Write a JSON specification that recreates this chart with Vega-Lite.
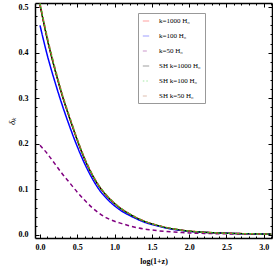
{
  "$schema": "https://vega.github.io/schema/vega-lite/v6.json",
  "autosize": "none",
  "width": 237,
  "height": 235,
  "padding": {"left": 35, "top": 3, "right": 1, "bottom": 35},
  "background": "white",
  "config": {
    "view": {"stroke": null},
    "axis": {
      "labelFont": "Liberation Serif",
      "labelFontWeight": "bold",
      "labelFontSize": 8,
      "labelColor": "black",
      "domainColor": "black",
      "domainWidth": 1.5,
      "tickColor": "black",
      "tickWidth": 1,
      "grid": false,
      "titleFont": "Liberation Serif",
      "titleColor": "black"
    }
  },
  "data": {
    "values": [
      {"x": 0.0, "k=1000 H₀": 0.505, "k=100 H₀": 0.46, "k=50 H₀": 0.197, "SH k=1000 H₀": 0.505, "SH k=100 H₀": 0.507, "SH k=50 H₀": 0.508},
      {"x": 0.1, "k=1000 H₀": 0.428, "k=100 H₀": 0.393, "k=50 H₀": 0.178, "SH k=1000 H₀": 0.428, "SH k=100 H₀": 0.43, "SH k=50 H₀": 0.432},
      {"x": 0.2, "k=1000 H₀": 0.363, "k=100 H₀": 0.336, "k=50 H₀": 0.156, "SH k=1000 H₀": 0.363, "SH k=100 H₀": 0.3645, "SH k=50 H₀": 0.367},
      {"x": 0.3, "k=1000 H₀": 0.305, "k=100 H₀": 0.284, "k=50 H₀": 0.134, "SH k=1000 H₀": 0.305, "SH k=100 H₀": 0.306, "SH k=50 H₀": 0.308},
      {"x": 0.4, "k=1000 H₀": 0.255, "k=100 H₀": 0.237, "k=50 H₀": 0.114, "SH k=1000 H₀": 0.255, "SH k=100 H₀": 0.256, "SH k=50 H₀": 0.258},
      {"x": 0.5, "k=1000 H₀": 0.208, "k=100 H₀": 0.194, "k=50 H₀": 0.094, "SH k=1000 H₀": 0.208, "SH k=100 H₀": 0.209, "SH k=50 H₀": 0.21},
      {"x": 0.6, "k=1000 H₀": 0.166, "k=100 H₀": 0.156, "k=50 H₀": 0.076, "SH k=1000 H₀": 0.166, "SH k=100 H₀": 0.1667, "SH k=50 H₀": 0.168},
      {"x": 0.7, "k=1000 H₀": 0.132, "k=100 H₀": 0.124, "k=50 H₀": 0.06, "SH k=1000 H₀": 0.132, "SH k=100 H₀": 0.1325, "SH k=50 H₀": 0.1335},
      {"x": 0.8, "k=1000 H₀": 0.105, "k=100 H₀": 0.098, "k=50 H₀": 0.047, "SH k=1000 H₀": 0.105, "SH k=100 H₀": 0.1054, "SH k=50 H₀": 0.106},
      {"x": 0.9, "k=1000 H₀": 0.085, "k=100 H₀": 0.079, "k=50 H₀": 0.037, "SH k=1000 H₀": 0.085, "SH k=100 H₀": 0.0853, "SH k=50 H₀": 0.086},
      {"x": 1.0, "k=1000 H₀": 0.069, "k=100 H₀": 0.064, "k=50 H₀": 0.03, "SH k=1000 H₀": 0.069, "SH k=100 H₀": 0.0693, "SH k=50 H₀": 0.0697},
      {"x": 1.1, "k=1000 H₀": 0.056, "k=100 H₀": 0.052, "k=50 H₀": 0.025, "SH k=1000 H₀": 0.056, "SH k=100 H₀": 0.0562, "SH k=50 H₀": 0.0566},
      {"x": 1.2, "k=1000 H₀": 0.046, "k=100 H₀": 0.043, "k=50 H₀": 0.02, "SH k=1000 H₀": 0.046, "SH k=100 H₀": 0.0462, "SH k=50 H₀": 0.0465},
      {"x": 1.3, "k=1000 H₀": 0.037, "k=100 H₀": 0.035, "k=50 H₀": 0.016, "SH k=1000 H₀": 0.037, "SH k=100 H₀": 0.0371, "SH k=50 H₀": 0.0374},
      {"x": 1.4, "k=1000 H₀": 0.03, "k=100 H₀": 0.028, "k=50 H₀": 0.013, "SH k=1000 H₀": 0.03, "SH k=100 H₀": 0.0301, "SH k=50 H₀": 0.0303},
      {"x": 1.5, "k=1000 H₀": 0.0245, "k=100 H₀": 0.023, "k=50 H₀": 0.011, "SH k=1000 H₀": 0.0245, "SH k=100 H₀": 0.0246, "SH k=50 H₀": 0.0247},
      {"x": 1.6, "k=1000 H₀": 0.02, "k=100 H₀": 0.019, "k=50 H₀": 0.009, "SH k=1000 H₀": 0.02, "SH k=100 H₀": 0.0201, "SH k=50 H₀": 0.0202},
      {"x": 1.7, "k=1000 H₀": 0.016, "k=100 H₀": 0.015, "k=50 H₀": 0.0075, "SH k=1000 H₀": 0.016, "SH k=100 H₀": 0.0161, "SH k=50 H₀": 0.0162},
      {"x": 1.8, "k=1000 H₀": 0.013, "k=100 H₀": 0.012, "k=50 H₀": 0.0063, "SH k=1000 H₀": 0.013, "SH k=100 H₀": 0.0131, "SH k=50 H₀": 0.0131},
      {"x": 1.9, "k=1000 H₀": 0.0105, "k=100 H₀": 0.0098, "k=50 H₀": 0.0053, "SH k=1000 H₀": 0.0105, "SH k=100 H₀": 0.0105, "SH k=50 H₀": 0.0106},
      {"x": 2.0, "k=1000 H₀": 0.0085, "k=100 H₀": 0.008, "k=50 H₀": 0.0045, "SH k=1000 H₀": 0.0085, "SH k=100 H₀": 0.0085, "SH k=50 H₀": 0.0086},
      {"x": 2.2, "k=1000 H₀": 0.006, "k=100 H₀": 0.0057, "k=50 H₀": 0.0035, "SH k=1000 H₀": 0.006, "SH k=100 H₀": 0.006, "SH k=50 H₀": 0.0061},
      {"x": 2.4, "k=1000 H₀": 0.0045, "k=100 H₀": 0.0043, "k=50 H₀": 0.0028, "SH k=1000 H₀": 0.0045, "SH k=100 H₀": 0.0045, "SH k=50 H₀": 0.0045},
      {"x": 2.6, "k=1000 H₀": 0.0034, "k=100 H₀": 0.0033, "k=50 H₀": 0.0022, "SH k=1000 H₀": 0.0034, "SH k=100 H₀": 0.0034, "SH k=50 H₀": 0.0034},
      {"x": 2.8, "k=1000 H₀": 0.0027, "k=100 H₀": 0.0026, "k=50 H₀": 0.0018, "SH k=1000 H₀": 0.0027, "SH k=100 H₀": 0.0027, "SH k=50 H₀": 0.0027},
      {"x": 3.0, "k=1000 H₀": 0.0021, "k=100 H₀": 0.002, "k=50 H₀": 0.0015, "SH k=1000 H₀": 0.0021, "SH k=100 H₀": 0.0021, "SH k=50 H₀": 0.0021},
      {"x": 3.1, "k=1000 H₀": 0.0019, "k=100 H₀": 0.0018, "k=50 H₀": 0.0014, "SH k=1000 H₀": 0.0019, "SH k=100 H₀": 0.0019, "SH k=50 H₀": 0.0019}
    ]
  },
  "transform": [
    {"fold": ["k=1000 H₀", "k=100 H₀", "k=50 H₀", "SH k=1000 H₀", "SH k=100 H₀", "SH k=50 H₀"], "as": ["s", "y"]}
  ],
  "encoding": {
    "x": {"field": "x", "type": "quantitative", "scale": {"domain": [-0.067, 3.11], "nice": false, "zero": false}},
    "y": {"field": "y", "type": "quantitative", "scale": {"domain": [-0.0066, 0.509], "nice": false, "zero": false}},
    "color": {
      "field": "s", "type": "nominal",
      "scale": {
        "domain": ["k=1000 H₀", "k=100 H₀", "k=50 H₀", "SH k=1000 H₀", "SH k=100 H₀", "SH k=50 H₀"],
        "range": ["#ff0000", "#0000ff", "#800080", "#000000", "#22cc22", "#b0603a"]
      },
      "legend": {
        "title": null, "orient": "none", "legendX": 103, "legendY": 10,
        "strokeColor": "#999999", "fillColor": "white", "padding": 4,
        "symbolType": "stroke", "symbolSize": 40, "symbolStrokeWidth": 1, "symbolOpacity": 0.4,
        "labelFont": "Liberation Serif", "labelFontSize": 7, "labelColor": "black",
        "labelOffset": 9, "rowPadding": 8,
        "labelExpr": "datum.label + '\u00a0\u00a0\u00a0\u00a0\u00a0\u00a0\u00a0\u00a0\u00a0\u00a0\u00a0\u00a0\u00a0\u00a0\u00a0\u00a0\u00a0\u00a0\u00a0\u00a0'"
      }
    },
    "strokeDash": {
      "field": "s", "type": "nominal",
      "scale": {
        "domain": ["k=1000 H₀", "k=100 H₀", "k=50 H₀", "SH k=1000 H₀", "SH k=100 H₀", "SH k=50 H₀"],
        "range": [[1, 0], [1, 0], [4, 3], [1, 0], [1.5, 2], [4, 3]]
      },
      "legend": {
        "title": null, "orient": "none", "legendX": 103, "legendY": 10,
        "strokeColor": "#999999", "fillColor": "white", "padding": 4,
        "symbolType": "stroke", "symbolSize": 40, "symbolStrokeWidth": 1, "symbolOpacity": 0.4,
        "labelFont": "Liberation Serif", "labelFontSize": 7, "labelColor": "black",
        "labelOffset": 9, "rowPadding": 8,
        "labelExpr": "datum.label + '\u00a0\u00a0\u00a0\u00a0\u00a0\u00a0\u00a0\u00a0\u00a0\u00a0\u00a0\u00a0\u00a0\u00a0\u00a0\u00a0\u00a0\u00a0\u00a0\u00a0'"
      }
    }
  },
  "layer": [
    {
      "transform": [{"filter": "datum.s === 'k=1000 H₀'"}],
      "mark": {"type": "line", "strokeWidth": 1.5, "interpolate": "monotone"},
      "encoding": {
        "x": {"field": "x", "type": "quantitative", "axis": {
          "orient": "bottom",
          "values": [0,0.1,0.2,0.3,0.4,0.5,0.6,0.7,0.8,0.9,1,1.1,1.2,1.3,1.4,1.5,1.6,1.7,1.8,1.9,2,2.1,2.2,2.3,2.4,2.5,2.6,2.7,2.8,2.9,3,3.1],
          "labelExpr": "abs(datum.value*2-round(datum.value*2))<0.001 ? format(datum.value,'.1f') : ''",
          "tickSize": {"condition": {"test": "abs(datum.value*2-round(datum.value*2))<0.001", "value": -4}, "value": -2},
          "labelPadding": 9, "labelFlush": false, "labelOverlap": false,
          "title": "log(1+z)", "titleFontSize": 8, "titleFontWeight": "bold", "titleY": 19, "titleBaseline": "top"
        }},
        "y": {"field": "y", "type": "quantitative", "axis": {
          "orient": "left",
          "values": [0,0.02,0.04,0.06,0.08,0.1,0.12,0.14,0.16,0.18,0.2,0.22,0.24,0.26,0.28,0.3,0.32,0.34,0.36,0.38,0.4,0.42,0.44,0.46,0.48,0.5],
          "labelExpr": "abs(datum.value*10-round(datum.value*10))<0.001 ? format(datum.value,'.1f') : ''",
          "tickSize": {"condition": {"test": "abs(datum.value*10-round(datum.value*10))<0.001", "value": -4}, "value": -2},
          "labelPadding": 11, "labelFlush": false, "labelOverlap": false,
          "title": "δₖ", "titleFontSize": 9, "titleFontWeight": "normal", "titleFontStyle": "italic",
          "titleAngle": -90, "titleX": -24, "titleY": 118, "titleBaseline": "middle", "titleAlign": "center"
        }}
      }
    },
    {
      "transform": [{"filter": "datum.s === 'k=100 H₀'"}],
      "mark": {"type": "line", "strokeWidth": 1.5, "interpolate": "monotone"},
      "encoding": {"x": {"field": "x", "type": "quantitative", "axis": null}, "y": {"field": "y", "type": "quantitative", "axis": null}}
    },
    {
      "transform": [{"filter": "datum.s === 'k=50 H₀'"}],
      "mark": {"type": "line", "strokeWidth": 1.5, "interpolate": "monotone"},
      "encoding": {"x": {"field": "x", "type": "quantitative", "axis": null}, "y": {"field": "y", "type": "quantitative", "axis": null}}
    },
    {
      "transform": [{"filter": "datum.s === 'SH k=1000 H₀'"}],
      "mark": {"type": "line", "strokeWidth": 1.2, "interpolate": "monotone"},
      "encoding": {"x": {"field": "x", "type": "quantitative", "axis": null}, "y": {"field": "y", "type": "quantitative", "axis": null}}
    },
    {
      "transform": [{"filter": "datum.s === 'SH k=50 H₀'"}],
      "mark": {"type": "line", "strokeWidth": 1.5, "interpolate": "monotone"},
      "encoding": {"x": {"field": "x", "type": "quantitative", "axis": null}, "y": {"field": "y", "type": "quantitative", "axis": null}}
    },
    {
      "transform": [{"filter": "datum.s === 'SH k=100 H₀'"}],
      "mark": {"type": "line", "strokeWidth": 1.5, "interpolate": "monotone"},
      "encoding": {"x": {"field": "x", "type": "quantitative", "axis": null}, "y": {"field": "y", "type": "quantitative", "axis": null}}
    },
    {
      "mark": {"type": "point", "opacity": 0},
      "encoding": {
        "color": {"value": "black"},
        "strokeDash": {"value": [1, 0]},
        "x": {"field": "x", "type": "quantitative", "axis": {
          "orient": "top", "labels": false, "title": null,
          "values": [0,0.1,0.2,0.3,0.4,0.5,0.6,0.7,0.8,0.9,1,1.1,1.2,1.3,1.4,1.5,1.6,1.7,1.8,1.9,2,2.1,2.2,2.3,2.4,2.5,2.6,2.7,2.8,2.9,3,3.1],
          "tickSize": {"condition": {"test": "abs(datum.value*2-round(datum.value*2))<0.001", "value": -4}, "value": -2}
        }},
        "y": {"field": "y", "type": "quantitative", "axis": {
          "orient": "right", "labels": false, "title": null,
          "values": [0,0.02,0.04,0.06,0.08,0.1,0.12,0.14,0.16,0.18,0.2,0.22,0.24,0.26,0.28,0.3,0.32,0.34,0.36,0.38,0.4,0.42,0.44,0.46,0.48,0.5],
          "tickSize": {"condition": {"test": "abs(datum.value*10-round(datum.value*10))<0.001", "value": -4}, "value": -2}
        }}
      }
    }
  ],
  "resolve": {"axis": {"x": "independent", "y": "independent"}}
}
